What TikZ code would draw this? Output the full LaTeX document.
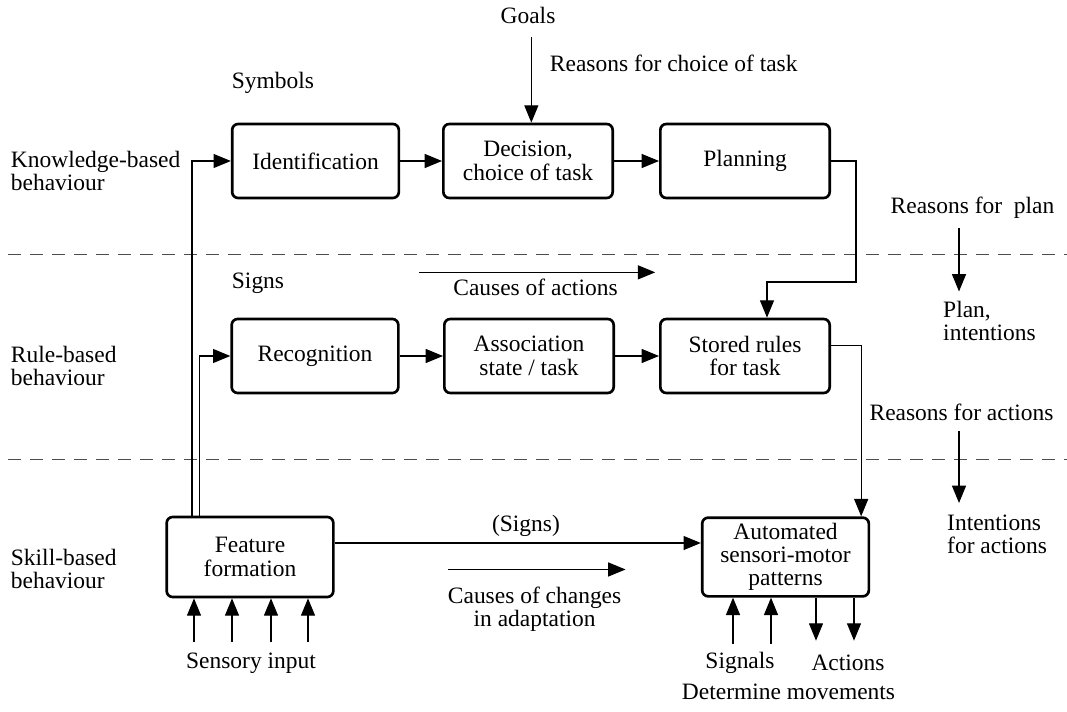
\documentclass[tikz,border=0pt]{standalone}
\usepackage{fontspec}
\setmainfont{Liberation Serif}
\usetikzlibrary{arrows.meta}

\newcommand{\labeltxt}{\fontsize{17.6}{17.5}\selectfont}

\tikzset{
    box/.style={draw, line width=2pt, rounded corners=4.5pt, align=center, inner sep=2pt,
        font=\labeltxt, minimum width=127pt, minimum height=55.5pt},
    arr/.style={line width=0.9pt, -{Triangle[length=13pt,width=10.5pt]}},
    lbl/.style={font=\labeltxt, align=left, inner sep=2pt},
    note/.style={font=\labeltxt, align=center, inner sep=2pt},
    layerline/.style={line width=0.7pt, black!70, dash pattern=on 10pt off 6.5pt}
}

\begin{document}
\begin{tikzpicture}[x=0.75pt, y=-0.75pt]
    \useasboundingbox (0,0) rectangle (1067,712);

    % Levels
    \draw[layerline] (8,254) -- (1067,254);
    \draw[layerline] (8,459.5) -- (1067,459.5);

    \node[lbl, anchor=west] (know) at (8,171) {Knowledge-based\\behaviour};
    \node[lbl, anchor=west] (rule) at (8,366) {Rule-based\\behaviour};
    \node[lbl, anchor=west] (skill) at (8,569) {Skill-based\\behaviour};

    % Knowledge-based
    \node[lbl, anchor=west] (symb) at (229,83) {Symbols};
    \node[box, minimum width=125pt] (ident) at (315.5,161) {Identification};
    \node[box] (dec) at (528,161) {Decision,\\choice of task};
    \node[box] (plan) at (745,161) {Planning};
    \node[note] (goals) at (528,15) {Goals};
    \node[note, anchor=west] (rchoice) at (547,63) {Reasons for choice of task};

    % Rule-based
    \node[lbl, anchor=west] (signs) at (229,283) {Signs};
    \node[box, minimum width=125pt] (recog) at (315,356) {Recognition};
    \node[box] (assoc) at (529,356) {Association\\state / task};
    \node[box] (stored) at (745,356) {Stored rules\\for task};
    \node[note] (cact) at (535.5,287) {Causes of actions};

    % Skill-based
    \node[box, minimum width=125pt, minimum height=60pt] (feat) at (250,557) {Feature\\formation};
    \node[box, minimum width=125pt, minimum height=59pt] (auto) at (785.5,557) {Automated\\sensori-motor\\patterns};
    \node[note] (psigns) at (526,526) {(Signs)};
    \node[note] (cchange) at (534.6,609.5) {Causes of changes\\in adaptation};
    \node[lbl] (sens) at (251,663) {Sensory input};
    \node[note] (signals) at (740,663) {Signals};
    \node[note] (actions) at (848,663) {Actions};
    \node[note] (determ) at (788.5,692) {Determine movements};

    % Right side
    \node[note] (rplan) at (972.5,208) {Reasons for\ \ plan};
    \node[lbl, anchor=west] (pint) at (940.3,321) {Plan,\\intentions};
    \node[note] (ract) at (961.5,412) {Reasons for actions};
    \node[lbl, anchor=west] (iact) at (944.3,534.5) {Intentions\\for actions};
    \coordinate (rcol) at (959,0);
    \coordinate (pbend) at (856,282);

    % Arrows
    \draw[arr, shorten <=8pt] ([xshift=2.5pt]goals.south) -- ([xshift=2.5pt]dec.north);
    \draw[arr] (ident.east) -- (dec.west);
    \draw[arr] (dec.east) -- (plan.west);
    \draw[arr] (plan.east) -| (pbend) -| ([xshift=16.5pt]stored.north);
    \draw[arr] (recog.east) -- (assoc.west);
    \draw[arr] (assoc.east) -- (stored.west);
    \draw[arr] ([yshift=8pt]stored.east) -| ([xshift=-6.75pt]auto.north east);
    \draw[arr] ([xshift=20pt]feat.north west) |- (ident.west);
    \draw[arr] ([xshift=25.5pt]feat.north west) |- (recog.west);
    \draw[arr] ([yshift=10.5pt]feat.east) -- ([yshift=10.5pt]auto.west);
    \draw[arr] ([xshift=-23.7pt,yshift=2.5pt]cact.north west) -- ([xshift=26pt,yshift=2.5pt]cact.north east);
    \draw[arr] ([xshift=2.25pt,yshift=11pt]cchange.north west) -- ([xshift=1pt,yshift=11pt]cchange.north east);
    \draw[arr, shorten <=5pt, shorten >=5pt] (rplan.south -| rcol) -- (pint.north -| rcol);
    \draw[arr, shorten <=5.7pt, shorten >=6.75pt] (ract.south -| rcol) -- (iact.north -| rcol);

    \foreach \dx in {-56,-18,21,58}
        \draw[arr] (feat.south) ++(\dx,44) -- ++(0,-44);
    \foreach \dx in {-52.5,-14.5}
        \draw[arr] (auto.south) ++(\dx,46) -- ++(0,-46);
    \foreach \dx in {30.5,68.5}
        \draw[arr] (auto.south) ++(\dx,0) -- ++(0,43);
\end{tikzpicture}
\end{document}
